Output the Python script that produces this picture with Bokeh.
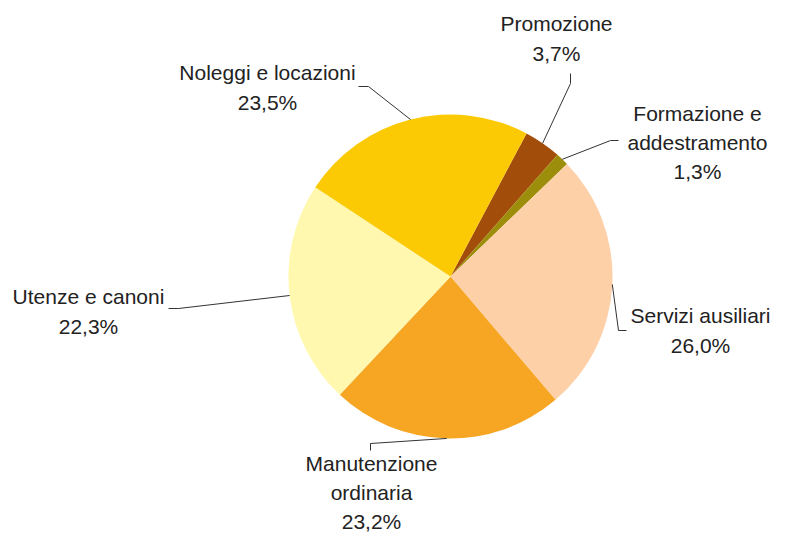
import math
from bokeh.plotting import figure
from bokeh.models import Range1d, ColumnDataSource
from bokeh.core.properties import value
from bokeh.embed import file_html
from bokeh.resources import INLINE

# ---- data ----
categories = ["Promozione", "Formazione e\naddestramento", "Servizi ausiliari",
              "Manutenzione\nordinaria", "Utenze e canoni", "Noleggi e locazioni"]
shares = [3.7, 1.3, 26.0, 23.2, 22.3, 23.5]
colors = ["#A34D0B", "#9C8E0A", "#FDD0A8", "#F6A623", "#FFF8AE", "#FCC905"]

# ---- layout (pixel coordinates from top-left of the figure) ----
W, H = 774, 536
CX, CY, R = 450, 276, 162
FIRST_ANGLE = 28.0  # degrees clockwise from 12 o'clock
label_xy = [(556, 38), (697, 142), (700, 330), (371, 492), (88, 311), (267, 87)]
elbows = [
    [(570, 83), (570, 73)],
    [(610, 140), (618, 140)],
    [(618, 330), (626, 330)],
    [(370, 443), (370, 450)],
    [(178, 308), (168, 308)],
    [(368, 86), (358, 86)],
]

def X(px):
    return px

def Y(py):
    return H - py

p = figure(width=W, height=H, output_backend="svg", toolbar_location=None,
           x_range=Range1d(0, W), y_range=Range1d(0, H), min_border=0)
p.axis.visible = False
p.grid.visible = False
p.outline_line_color = None
p.background_fill_color = "white"
p.border_fill_color = "white"

total = sum(shares)
starts, ends, mids = [], [], []
cum = FIRST_ANGLE
for s in shares:
    a0 = cum
    a1 = cum + 360.0 * s / total
    starts.append(math.radians(90 - a0))
    ends.append(math.radians(90 - a1))
    mids.append((a0 + a1) / 2)
    cum = a1

src = ColumnDataSource(dict(start=starts, end=ends, color=colors))
p.wedge(x=X(CX), y=Y(CY), radius=R, start_angle="start", end_angle="end",
        direction="clock", fill_color="color", line_color=None, source=src)

# leader lines
for m, el in zip(mids, elbows):
    ex = CX + R * math.sin(math.radians(m))
    ey = CY - R * math.cos(math.radians(m))
    pts = [(ex, ey)] + el
    p.line([X(a) for a, b in pts], [Y(b) for a, b in pts], line_color="#333333", line_width=1)

texts = [f"{c}\n{str(s).replace('.', ',')}%" for c, s in zip(categories, shares)]
p.text(x=[X(a) for a, b in label_xy], y=[Y(b) for a, b in label_xy], text=texts,
       text_font=value("Liberation Sans"), text_font_size="21px", text_color="#222222",
       text_align="center", text_baseline="middle", text_line_height=1.28)

open("out.html", "w").write(file_html(p, INLINE))
